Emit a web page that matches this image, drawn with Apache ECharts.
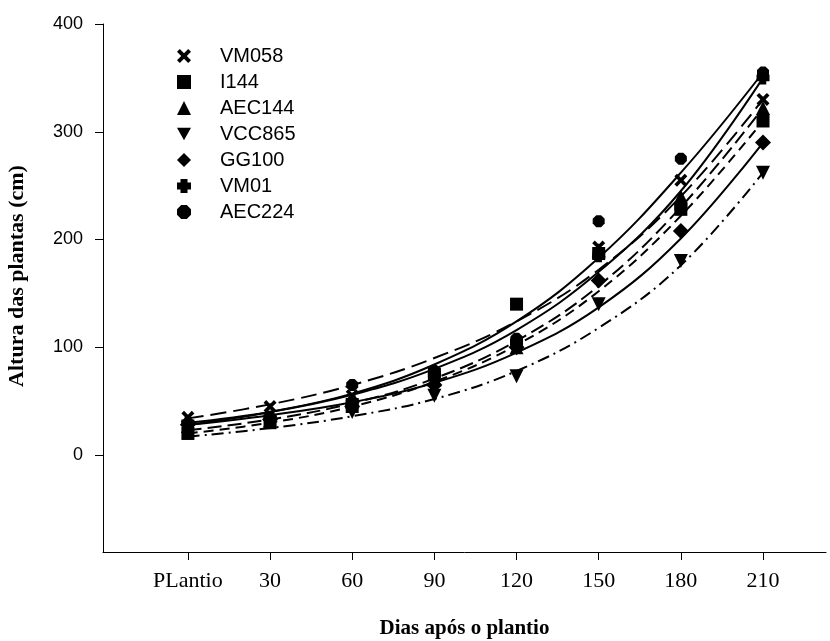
<!DOCTYPE html>
<html>
<head>
<meta charset="utf-8">
<script src="https://cdn.jsdelivr.net/npm/echarts@6/dist/echarts.min.js"></script>
<style>html,body{margin:0;padding:0;background:#fff}#c{width:830px;height:641px}</style>
</head>
<body>
<div id="c"></div>
<script>
const days = [0, 30, 60, 90, 120, 150, 180, 210];
const xTickLabels = ['PLantio', '30', '60', '90', '120', '150', '180', '210'];
const yTicks = [0, 100, 200, 300, 400];
const cultivars = ['VM058', 'I144', 'AEC144', 'VCC865', 'GG100', 'VM01', 'AEC224'];

// observed heights (cm)
const obsVM058  = [35, 45, 55, 70, 105, 193, 255, 330];
const obsI144   = [20, 30, 45, 75, 140, 187, 228, 310];
const obsAEC144 = [27, 32, 50, 70, 100, 190, 240, 322];
const obsVCC865 = [25, 30, 40, 55, 73, 140, 180, 262];
const obsGG100  = [28, 33, 45, 65, 100, 162, 208, 290];
const obsVM01   = [30, 35, 50, 75, 105, 185, 230, 350];
const obsAEC224 = [28, 35, 65, 78, 108, 217, 275, 355];

// fitted curves
const fitVM058  = [34, 47, 65, 90, 124, 172, 240, 330];
const fitI144   = [20, 30, 45, 68, 102, 152, 222, 310];
const fitAEC144 = [23, 33, 48, 71, 106, 157, 230, 322];
const fitVCC865 = [17, 25, 36, 52, 78, 118, 176, 262];
const fitGG100  = [28, 37, 49, 67, 95, 137, 201, 290];
const fitVM01   = [30, 40, 56, 80, 116, 170, 245, 350];
const fitAEC224 = [28, 40, 57, 84, 124, 183, 262, 355];

const observed = [obsVM058, obsI144, obsAEC144, obsVCC865, obsGG100, obsVM01, obsAEC224];
const fitted = [fitVM058, fitI144, fitAEC144, fitVCC865, fitGG100, fitVM01, fitAEC224];

const symbols = [
  'path://M0,2 L2,0 L5,3 L8,0 L10,2 L7,5 L10,8 L8,10 L5,7 L2,10 L0,8 L3,5 Z',
  'rect',
  'triangle',
  'path://M0,0 L10,0 L5,9 Z',
  'diamond',
  'path://M2.5,0 L7.5,0 L7.5,2.5 L10,2.5 L10,7.5 L7.5,7.5 L7.5,10 L2.5,10 L2.5,7.5 L0,7.5 L0,2.5 L2.5,2.5 Z',
  'path://M3,0 L7,0 L10,3 L10,7 L7,10 L3,10 L0,7 L0,3 Z'
];
const symSizes = [13, 13, 14, 14, 16, 13, 12];
const lineTypes = [[16, 7], [10, 6], [14, 6], [12, 5, 2, 5], 'solid', 'solid', 'solid'];

const series = [];
cultivars.forEach((name, i) => {
  series.push({
    name: name + ' ajuste',
    type: 'line',
    smooth: 0.4,
    showSymbol: false,
    silent: true,
    z: 2,
    lineStyle: { color: '#000', width: 2, type: lineTypes[i] },
    data: days.map((d, k) => [d, fitted[i][k]])
  });
  series.push({
    name: name,
    type: 'scatter',
    symbol: symbols[i],
    symbolSize: symSizes[i],
    z: 3,
    itemStyle: { color: '#000', opacity: 1 },
    data: days.map((d, k) => [d, observed[i][k]])
  });
});

const chart = echarts.init(document.getElementById('c'));
chart.setOption({
  animation: false,
  backgroundColor: '#fff',
  grid: { left: 103, top: 24, right: 4, bottom: 89, containLabel: false, outerBoundsMode: 'none' },
  graphic: [{
    type: 'text',
    x: 17,
    y: 276,
    rotation: Math.PI / 2,
    style: {
      text: 'Altura das plantas (cm)',
      font: 'bold 22px "Liberation Serif", "Times New Roman", serif',
      fill: '#000',
      align: 'center',
      verticalAlign: 'middle',
      textAlign: 'center',
      textVerticalAlign: 'middle'
    }
  }],
  legend: {
    data: cultivars.map((n, i) => ({ name: n, icon: symbols[i] })),
    orient: 'vertical',
    left: 172,
    top: 41,
    itemWidth: 14,
    itemHeight: 14,
    itemGap: 6,
    textStyle: { fontFamily: 'Liberation Sans, Arial', fontSize: 20, lineHeight: 20, color: '#000', padding: [0, 0, 0, 24] },
    itemStyle: { color: '#000', opacity: 1 }
  },
  xAxis: {
    type: 'value',
    min: -31,
    max: 233,
    name: 'Dias após o plantio',
    nameLocation: 'middle',
    nameGap: 66,
    nameTextStyle: { fontFamily: 'Liberation Serif, Times New Roman', fontWeight: 'bold', fontSize: 21, color: '#000' },
    axisLine: { onZero: false, lineStyle: { color: '#000', width: 1 } },
    axisTick: { show: true, length: 8, inside: false, customValues: days, lineStyle: { color: '#000' } },
    axisLabel: {
      customValues: days,
      margin: 18,
      fontFamily: 'Liberation Serif, Times New Roman',
      fontSize: 22,
      color: '#000',
      formatter: v => xTickLabels[days.indexOf(v)]
    },
    splitLine: { show: false }
  },
  yAxis: {
    type: 'value',
    min: -90,
    max: 400,
    axisLine: { show: true, onZero: false, lineStyle: { color: '#000', width: 1 } },
    axisTick: { show: true, length: 8, customValues: yTicks, lineStyle: { color: '#000' } },
    axisLabel: { customValues: yTicks, margin: 20, fontFamily: 'Liberation Sans, Arial', fontSize: 18, color: '#000' },
    splitLine: { show: false }
  },
  series: series
});
</script>
</body>
</html>
